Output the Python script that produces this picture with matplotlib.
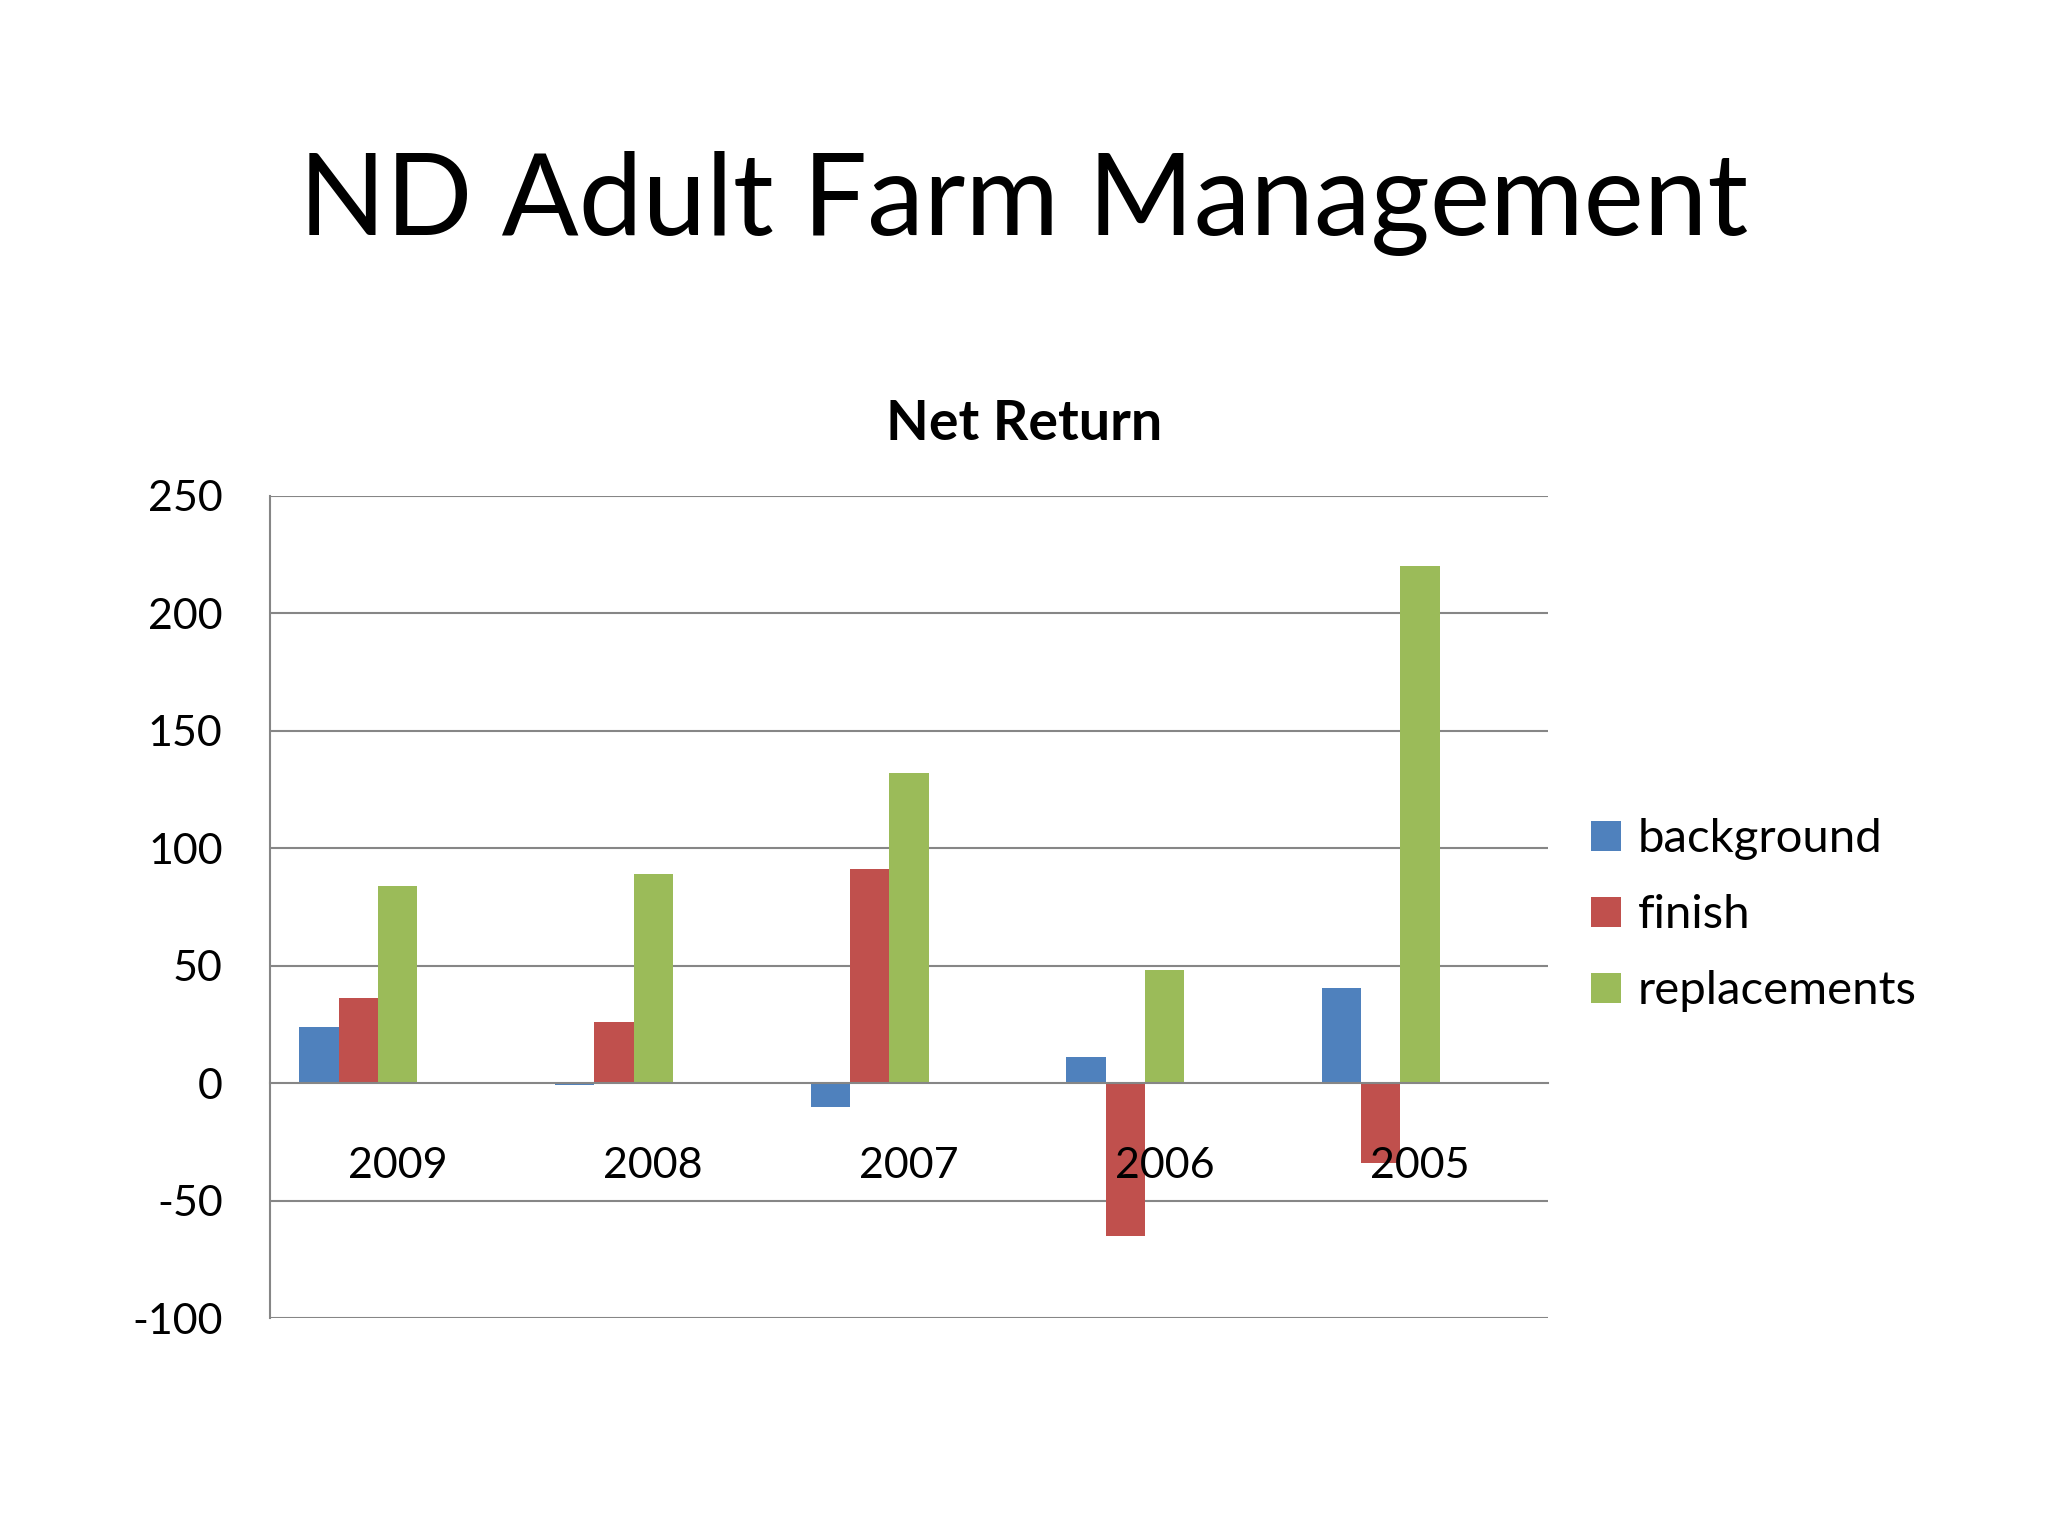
import matplotlib
matplotlib.use("Agg")
import matplotlib.pyplot as plt
from matplotlib.patches import Patch
import numpy as np

# chart data
years = ["2009", "2008", "2007", "2006", "2005"]
background = [24, -1, -10, 11, 40.5]
finish = [36, 26, 91, -65, -34]
replacements = [84, 89, 132, 48, 220]
series_names = ["background", "finish", "replacements"]
colors = ["#4F81BD", "#C0504D", "#9BBB59"]
y_ticks = [-100, -50, 0, 50, 100, 150, 200, 250]

plt.rcParams["font.family"] = ["Lato", "DejaVu Sans"]
plt.rcParams["axes.unicode_minus"] = False

grid_color = "#868686"

fig = plt.figure(figsize=(20.48, 15.36), dpi=100)
ax = fig.add_axes([0.1318, 0.1419, 0.624, 0.5355])

# gridlines under the bars, axis (and its year labels) over them
for v in y_ticks:
    if v != 0:
        ax.axhline(v, color=grid_color, linewidth=1.5, zorder=1)

x = np.arange(len(years))
w = 1 / 6.5  # Excel-style: 5 series slots, gap width 150%
for i, (vals, c) in enumerate(zip([background, finish, replacements], colors)):
    ax.bar(x + (i - 2) * w, vals, width=w, color=c, zorder=2, linewidth=0)
ax.set_axisbelow(False)

ax.set_xlim(-0.5, len(years) - 0.5)
ax.set_ylim(-100, 250)
ax.set_yticks(y_ticks)
ax.set_yticklabels([str(v) for v in y_ticks])

ax.set_xticks(x)
ax.set_xticklabels(years)
ax.spines["bottom"].set_position(("data", 0))
ax.spines["bottom"].set_color(grid_color)
ax.spines["bottom"].set_linewidth(1.5)
ax.spines["left"].set_color(grid_color)
ax.spines["left"].set_linewidth(1.5)
ax.spines["top"].set_visible(False)
ax.spines["right"].set_visible(False)
ax.tick_params(axis="x", length=0, pad=46, labelsize=31)
ax.tick_params(axis="y", length=0, pad=34, labelsize=31)

fig.text(0.5, 0.847, "ND Adult Farm Management", ha="center", va="baseline",
         fontsize=82)
fig.text(0.5, 0.7135, "Net Return", ha="center", va="baseline",
         fontsize=40, fontweight="bold")

handles = [Patch(facecolor=c, edgecolor="none") for c in colors]
fig.legend(handles, series_names, loc="center left",
           bbox_to_anchor=(0.777, 0.404), bbox_transform=fig.transFigure,
           frameon=False, fontsize=34, handlelength=0.62, handleheight=0.62,
           handletextpad=0.36, labelspacing=0.72, borderpad=0, borderaxespad=0)

fig.savefig("out.png", dpi=100)
